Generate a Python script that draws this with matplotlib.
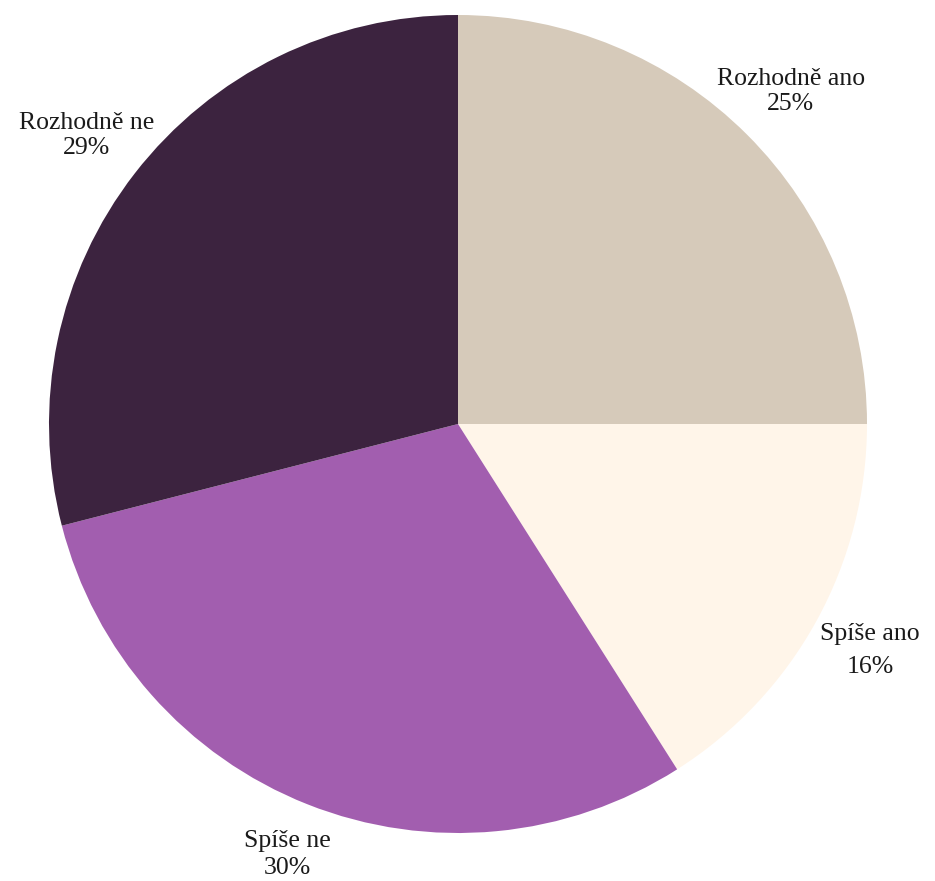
import matplotlib.pyplot as plt

labels = ['Rozhodně ano', 'Spíše ano', 'Spíše ne', 'Rozhodně ne']
values = [25, 16, 30, 29]
colors = ['#D6CABA', '#FFF5E9', '#A25EAF', '#3C233F']

plt.rcParams['font.family'] = ['Liberation Serif', 'DejaVu Serif']

fig = plt.figure(figsize=(9.35, 8.81), dpi=100)
ax = fig.add_axes([49 / 935, 48 / 881, 818 / 935, 818 / 881])

texts = [f'{l}\n{v}%' for l, v in zip(labels, values)]
wedges, txts = ax.pie(values, labels=texts, colors=colors, startangle=90,
                      counterclock=False, labeldistance=1.15,
                      textprops={'fontsize': 18.5, 'color': '#1a1a1a'})
# gaps between the two label lines differ a bit in the original
for t, ls in zip(txts, [1.17, 1.6, 1.3, 1.2]):
    t.set_ha('center')
    t.set_va('center')
    t.set_linespacing(ls)
# pull the bottom label in a touch so it stays inside the figure
x, y = txts[2].get_position()
txts[2].set_position((x * 0.985, y * 0.985))
ax.set_xlim(-1, 1)
ax.set_ylim(-1, 1)
ax.set_aspect('equal')

plt.savefig('out.png', dpi=100)
